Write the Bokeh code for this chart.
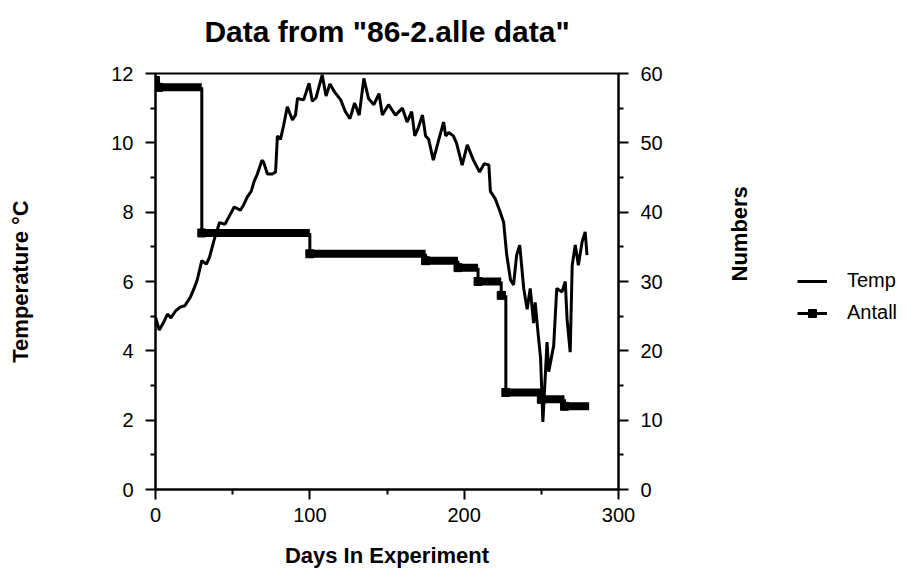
import math
from bokeh.plotting import figure
from bokeh.layouts import row
from bokeh.models import Range1d, LinearAxis, Legend, LegendItem, FixedTicker
from bokeh.embed import file_html
from bokeh.resources import INLINE

# ---- data ----
temp_day = [0, 2.4, 5, 7.8, 10, 13, 16, 19, 22.6, 25, 27, 30, 33, 35, 38, 41.5, 45, 48,
            51, 55, 57, 59.5, 62, 64, 66, 69, 70, 72.5, 75.7, 77.8, 79, 81, 83, 85.4,
            88.7, 90.7, 92, 96, 99.5, 101.6, 104, 108, 110.5, 113, 116, 120, 123, 126,
            129, 132, 135, 138, 141.5, 144.8, 147, 151, 155.5, 160, 163, 166, 168, 170,
            173, 175, 177, 180, 183.6, 186.7, 188, 190, 193, 195, 198.7, 202, 206, 210,
            213, 216, 217, 220, 223, 225.6, 227.5, 230, 232, 234, 236, 238.6, 240.8,
            242.8, 245, 246, 248, 249.5, 251, 253.7, 254.8, 258, 260, 263.4, 265.5,
            266.7, 268.7, 270, 272, 274, 276.4, 278.4, 279.6]
temp_c = [4.97, 4.6, 4.8, 5.06, 4.95, 5.15, 5.26, 5.3, 5.55, 5.8, 6.04, 6.6, 6.5, 6.7,
          7.2, 7.7, 7.65, 7.9, 8.15, 8.06, 8.2, 8.44, 8.6, 8.9, 9.1, 9.5, 9.45, 9.1, 9.1,
          9.16, 10.2, 10.1, 10.5, 11.04, 10.66, 10.8, 11.28, 11.24, 11.72, 11.2, 11.3,
          11.96, 11.35, 11.7, 11.47, 11.24, 10.9, 10.7, 11.15, 10.8, 11.86, 11.28, 11.1,
          11.42, 10.8, 11.1, 10.8, 11.0, 10.6, 10.9, 10.2, 10.4, 10.8, 10.2, 10.1, 9.5,
          10.1, 10.6, 10.2, 10.3, 10.2, 10.0, 9.36, 9.94, 9.5, 9.16, 9.4, 9.36, 8.6, 8.4,
          8.05, 7.7, 6.8, 6.05, 5.9, 6.76, 7.05, 5.8, 5.2, 5.8, 4.8, 5.4, 4.45, 3.8, 1.95,
          4.25, 3.4, 4.15, 5.8, 5.7, 6.0, 4.9, 3.96, 6.47, 7.05, 6.47, 7.14, 7.43, 6.76]

antall_day = [0, 2, 30, 100, 175, 196, 209, 224, 227, 250, 265]
antall_num = [59, 58, 37, 34, 33, 32, 30, 28, 14, 13, 12]
antall_last_day = 281

x_ticks = [0, 100, 200, 300]
x_minor = [50, 150, 250]
temp_ticks = [0, 2, 4, 6, 8, 10, 12]
temp_minor = [1, 3, 5, 7, 9, 11]
num_ticks = [0, 10, 20, 30, 40, 50, 60]
num_minor = [5, 15, 25, 35, 45, 55]

FONT = "Liberation Sans"
H = 570

# ---------------- main chart ----------------
p = figure(width=780, height=H, x_range=Range1d(0, 300), y_range=Range1d(0, 12),
           output_backend="svg", toolbar_location=None,
           min_border_left=155, min_border_right=162, min_border_top=73, min_border_bottom=81)
p.extra_y_ranges = {"num": Range1d(0, 60)}

p.title.text = 'Data from "86-2.alle data"'
p.title.align = "center"
p.title.text_font = FONT
p.title.text_font_size = "30px"
p.title.text_font_style = "bold"
p.title.text_color = "black"
p.title.standoff = 12

bottom = p.below[0]
left = p.left[0]

# invisible spacer between the title and the plot box: one hidden tick, blank label
top_space = LinearAxis(ticker=FixedTicker(ticks=[x_minor[1]], minor_ticks=[]),
                       axis_line_alpha=0, major_tick_in=0, major_tick_out=20,
                       minor_tick_in=0, minor_tick_out=0,
                       major_tick_line_alpha=0, minor_tick_line_alpha=0,
                       major_label_standoff=0, major_label_text_font_size="1px",
                       major_label_overrides={x_minor[1]: ""})
p.add_layout(top_space, "above")

p.xgrid.visible = False
p.ygrid.visible = False
p.outline_line_color = "black"
p.outline_line_width = 2
p.background_fill_color = "white"
p.border_fill_color = "white"

right = LinearAxis(y_range_name="num")
p.add_layout(right, "right")

bottom.ticker = FixedTicker(ticks=x_ticks, minor_ticks=x_minor)
left.ticker = FixedTicker(ticks=temp_ticks, minor_ticks=temp_minor)
right.ticker = FixedTicker(ticks=num_ticks, minor_ticks=num_minor)

bottom.axis_label = "Days In Experiment"
left.axis_label = "Temperature °C"
right.axis_label = "Numbers"
right.axis_label_orientation = math.pi / 2

for ax in [bottom, left, right]:
    ax.axis_line_width = 2
    ax.axis_line_color = "black"
    ax.major_tick_line_width = 2
    ax.minor_tick_line_width = 2
    ax.major_tick_in = 0
    ax.major_tick_out = 10
    ax.minor_tick_in = 0
    ax.minor_tick_out = 5
    ax.major_label_standoff = 12
    ax.major_label_text_font = FONT
    ax.major_label_text_font_size = "20px"
    ax.major_label_text_color = "black"
    ax.axis_label_text_font = FONT
    ax.axis_label_text_font_size = "22px"
    ax.axis_label_text_font_style = "bold"
    ax.axis_label_text_color = "black"

bottom.major_label_standoff = 8
bottom.axis_label_standoff = 18
left.axis_label_standoff = 75
right.axis_label_standoff = 74

# temperature line
r_temp = p.line(temp_day, temp_c, line_width=3, line_color="black")

# Antall step line
seg_end = antall_day[1:] + [antall_last_day]
p.segment(antall_day, antall_num, seg_end, antall_num, y_range_name="num",
          line_width=8, line_color="black", line_cap="butt")
p.segment(antall_day[1:], antall_num[:-1], antall_day[1:], antall_num[1:],
          y_range_name="num", line_width=3, line_color="black")
p.scatter(antall_day, antall_num, y_range_name="num", marker="square", size=8,
          fill_color="black", line_color="black")

# ---------------- legend panel ----------------
lf = figure(width=125, height=H, x_range=Range1d(1000, 1001), y_range=Range1d(1000, 1001),
            x_axis_type=None, y_axis_type=None, output_backend="svg", toolbar_location=None,
            min_border=0)
lf.outline_line_color = None
lf.background_fill_color = "white"
lf.border_fill_color = "white"

# same series, outside this panel's ranges: only their legend symbols are seen
lg_temp = lf.line(temp_day, temp_c, line_width=3, line_color="black")
lg_ant_line = lf.segment(antall_day[1:], antall_num[:-1], antall_day[1:], antall_num[1:],
                         line_width=3, line_color="black")
lg_ant_mark = lf.scatter(antall_day, antall_num, marker="square", size=8,
                         fill_color="black", line_color="black")

legend = Legend(items=[LegendItem(label="Temp", renderers=[lg_temp]),
                       LegendItem(label="Antall", renderers=[lg_ant_line, lg_ant_mark])],
                location=(17, 165), border_line_color=None, background_fill_alpha=0,
                padding=0, margin=0, spacing=9, glyph_width=30, glyph_height=20,
                label_standoff=20, label_text_font=FONT, label_text_font_size="20px",
                label_height=20, label_text_color="black")
lf.add_layout(legend, "center")

layout = row(p, lf, spacing=0)
open("out.html", "w").write(file_html(layout, INLINE))
